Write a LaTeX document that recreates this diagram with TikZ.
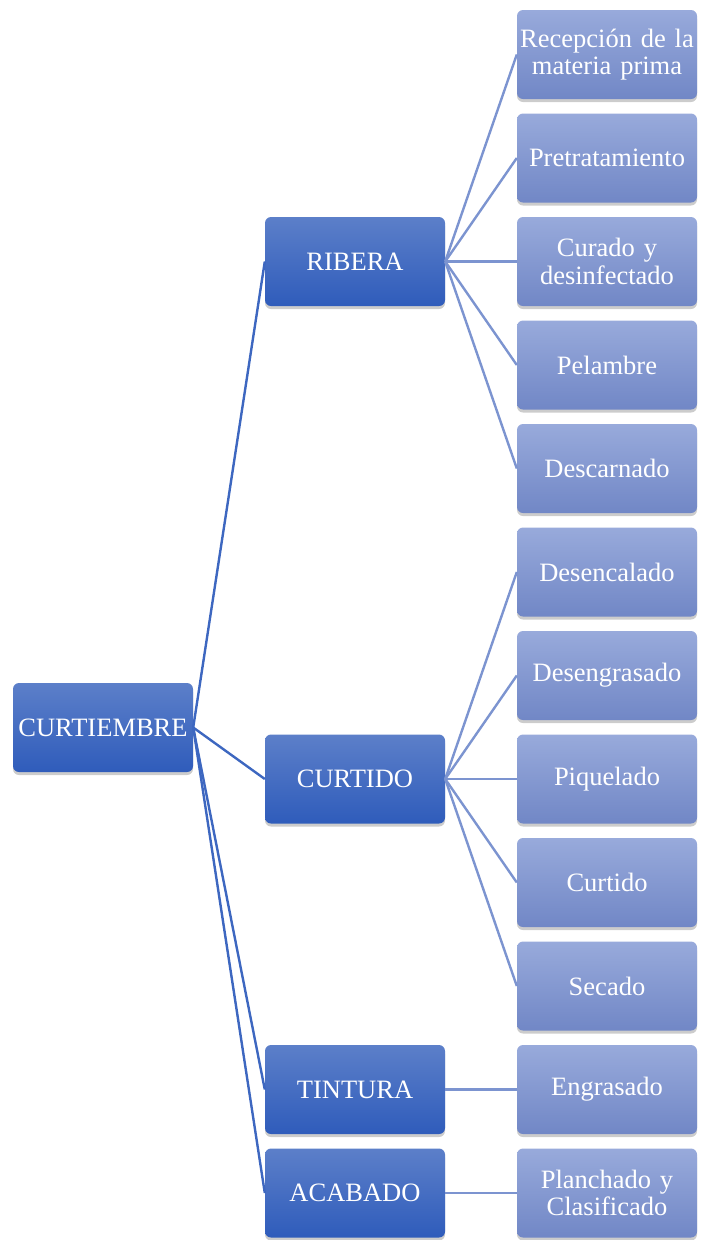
\documentclass[tikz,border=0pt]{standalone}
\usepackage{fontspec}
\setmainfont{Liberation Serif}
\usetikzlibrary{shadows}
\definecolor{dtop}{HTML}{5C7FC9}
\definecolor{dbot}{HTML}{2F5CBB}
\definecolor{ltop}{HTML}{98AADB}
\definecolor{lbot}{HTML}{7187C6}
\definecolor{dline}{HTML}{3D67C0}
\definecolor{lline}{HTML}{7C94D0}
\tikzset{
 box/.style={rounded corners=6pt, minimum width=180pt, minimum height=89pt, inner sep=0pt, text width=178pt, align=center, text=white, font=\fontsize{26.5}{27.5}\selectfont, drop shadow={shadow xshift=0pt, shadow yshift=-3pt, opacity=0.4}},
 mainbox/.style={box, top color=dtop, bottom color=dbot},
 leafbox/.style={box, top color=ltop, bottom color=lbot},
 dconn/.style={draw=dline, line width=2.4pt},
 lconn/.style={draw=lline, line width=2.4pt},
}
\begin{document}
\begin{tikzpicture}[x=1pt,y=-1pt]
\useasboundingbox (0,0) rectangle (701,1240);
\node[mainbox] (root) at (103,727.5) {CURTIEMBRE};
\node[mainbox] (rib) at (355,261.5) {RIBERA};
\node[mainbox] (cur) at (355,779) {CURTIDO};
\node[mainbox] (tin) at (355,1089.5) {TINTURA};
\node[mainbox] (aca) at (355,1193) {ACABADO};
\node[leafbox] (l0) at (607,54.5) {Recepción de la\\materia prima};
\node[leafbox] (l1) at (607,158) {Pretratamiento};
\node[leafbox] (l2) at (607,261.5) {Curado y\\desinfectado};
\node[leafbox] (l3) at (607,365) {Pelambre};
\node[leafbox] (l4) at (607,468.5) {Descarnado};
\node[leafbox] (l5) at (607,572) {Desencalado};
\node[leafbox] (l6) at (607,675.5) {Desengrasado};
\node[leafbox] (l7) at (607,779) {Piquelado};
\node[leafbox] (l8) at (607,882.5) {Curtido};
\node[leafbox] (l9) at (607,986) {Secado};
\node[leafbox] (l10) at (607,1089.5) {Engrasado};
\node[leafbox] (l11) at (607,1193) {Planchado y\\Clasificado};
\foreach \t in {rib,cur,tin,aca} \draw[dconn] (root.east) -- (\t.west);
\foreach \t in {l0,l1,l2,l3,l4} \draw[lconn] (rib.east) -- (\t.west);
\foreach \t in {l5,l6,l7,l8,l9} \draw[lconn] (cur.east) -- (\t.west);
\draw[lconn] (tin.east) -- (l10.west);
\draw[lconn] (aca.east) -- (l11.west);
\end{tikzpicture}
\end{document}
